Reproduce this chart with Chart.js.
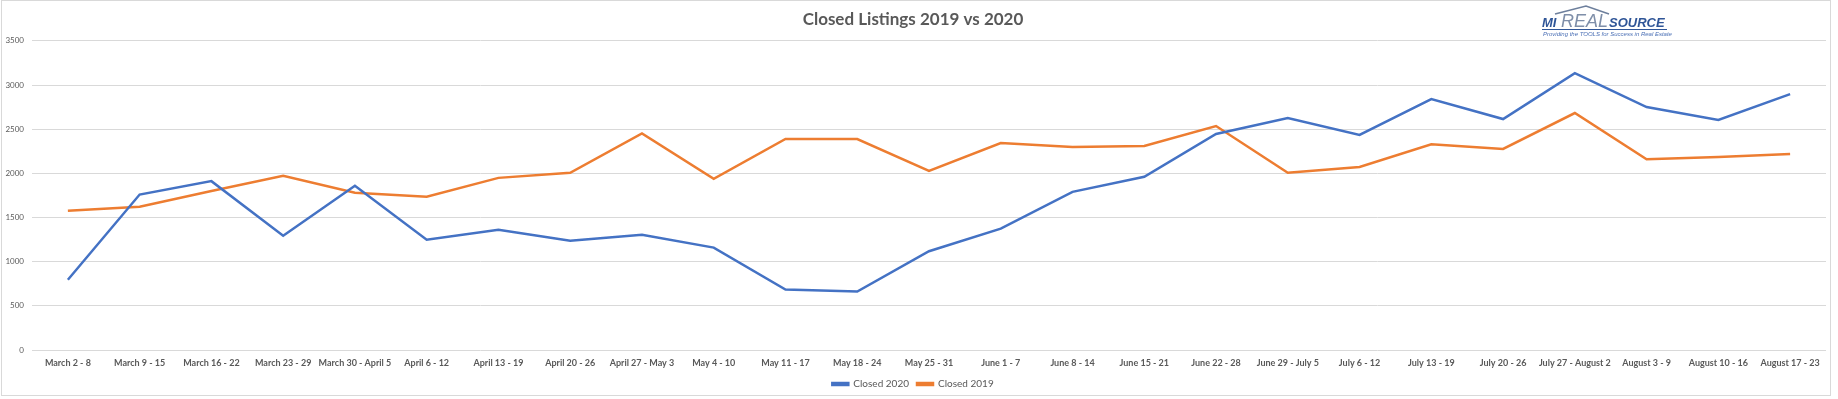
<!DOCTYPE html>
<html>
<head>
<meta charset="utf-8">
<title>Closed Listings 2019 vs 2020</title>
<script src="https://cdn.jsdelivr.net/npm/chart.js@4.4.1/dist/chart.umd.min.js"></script>
<style>
  html, body { margin: 0; padding: 0; background: #fff; }
  #wrap { position: relative; width: 1838px; height: 399px; }
</style>
</head>
<body>
<div id="wrap"><canvas id="chart" width="1838" height="399"></canvas></div>
<script>
// Weekly periods
const weeks = [
    'March 2 - 8', 'March 9 - 15', 'March 16 - 22', 'March 23 - 29', 'March 30 - April 5',
    'April 6 - 12', 'April 13 - 19', 'April 20 - 26', 'April 27 - May 3', 'May 4 - 10',
    'May 11 - 17', 'May 18 - 24', 'May 25 - 31', 'June 1 - 7', 'June 8 - 14',
    'June 15 - 21', 'June 22 - 28', 'June 29 - July 5', 'July 6 - 12', 'July 13 - 19',
    'July 20 - 26', 'July 27 - August 2', 'August 3 - 9', 'August 10 - 16', 'August 17 - 23'
];

// Closed listings
const closed2020 = [795, 1760, 1912, 1294, 1859, 1249, 1362, 1238, 1306, 1159,
                    685, 662, 1118, 1374, 1791, 1961, 2446, 2627, 2435, 2841,
                    2615, 3135, 2751, 2604, 2898];
const closed2019 = [1577, 1622, 1800, 1972, 1780, 1735, 1949, 2006, 2453, 1938,
                    2389, 2389, 2028, 2344, 2299, 2311, 2536, 2006, 2073, 2329,
                    2277, 2683, 2160, 2186, 2220];

// Y axis
const yMin = 0, yMax = 3500, yStep = 500;

const BLUE = '#4472c4', ORANGE = '#ed7d31', GREY = '#595959';
const FONT = 'Lato, "Liberation Sans", sans-serif';

// Chart frame + logo
const frame = {
    id: 'frame',
    afterDraw(chart) {
        const ctx = chart.ctx;
        ctx.save();
        ctx.strokeStyle = '#d9d9d9';
        ctx.lineWidth = 1;
        ctx.strokeRect(1.5, 0.5, 1829, 395);

        // MI REAL SOURCE logo
        ctx.strokeStyle = '#6d7f9c';
        ctx.lineWidth = 1.5;
        ctx.beginPath();
        ctx.moveTo(1555, 14);
        ctx.lineTo(1586, 6);
        ctx.lineTo(1609, 14);
        ctx.stroke();

        ctx.textBaseline = 'alphabetic';
        ctx.textAlign = 'left';
        ctx.fillStyle = '#2f5597';
        ctx.font = 'italic bold 13px "Liberation Sans", sans-serif';
        ctx.fillText('MI', 1542, 27);
        ctx.fillStyle = '#7f8fa9';
        ctx.font = 'italic 18px "Liberation Sans", sans-serif';
        ctx.fillText('REAL', 1561, 27);
        ctx.fillStyle = '#2f5597';
        ctx.font = 'italic bold 13px "Liberation Sans", sans-serif';
        ctx.fillText('SOURCE', 1609, 27);
        ctx.fillRect(1542, 29, 125, 1);
        ctx.font = 'italic 6px "Liberation Sans", sans-serif';
        ctx.fillStyle = '#4a6fb5';
        ctx.fillText('Providing the TOOLS for Success in Real Estate', 1543, 36);
        ctx.restore();
    }
};

new Chart(document.getElementById('chart'), {
    type: 'line',
    data: {
        labels: weeks,
        datasets: [
            {
                label: 'Closed 2020',
                data: closed2020,
                borderColor: BLUE,
                backgroundColor: BLUE,
                borderWidth: 2.5,
                pointRadius: 0,
                tension: 0,
                fill: false
            },
            {
                label: 'Closed 2019',
                data: closed2019,
                borderColor: ORANGE,
                backgroundColor: ORANGE,
                borderWidth: 2.5,
                pointRadius: 0,
                tension: 0,
                fill: false
            }
        ]
    },
    options: {
        responsive: false,
        animation: false,
        layout: { padding: { left: 0, right: 12, top: 0, bottom: 0 } },
        scales: {
            x: {
                offset: true,
                grid: { display: false, drawTicks: false },
                border: { display: false },
                ticks: {
                    color: GREY,
                    font: { family: FONT, size: 9, weight: 'bold' },
                    padding: 8,
                    maxRotation: 0,
                    autoSkip: false
                },
                afterFit(scale) { scale.height = 21; }
            },
            y: {
                min: yMin,
                max: yMax,
                grid: { color: '#d9d9d9', drawTicks: false },
                border: { display: false },
                ticks: {
                    stepSize: yStep,
                    color: GREY,
                    font: { family: FONT, size: 8 },
                    padding: 8,
                    callback: v => String(v)
                },
                afterFit(scale) { scale.width = 32; }
            }
        },
        plugins: {
            title: {
                display: true,
                text: 'Closed Listings 2019 vs 2020',
                color: GREY,
                font: { family: FONT, size: 17, weight: 'bold' },
                padding: { top: 9, bottom: 11.5 }
            },
            legend: {
                position: 'bottom',
                labels: {
                    color: GREY,
                    font: { family: FONT, size: 10 },
                    boxWidth: 16,
                    boxHeight: 2,
                    padding: 8
                }
            },
            tooltip: { enabled: false }
        }
    },
    plugins: [frame]
});
</script>
</body>
</html>
